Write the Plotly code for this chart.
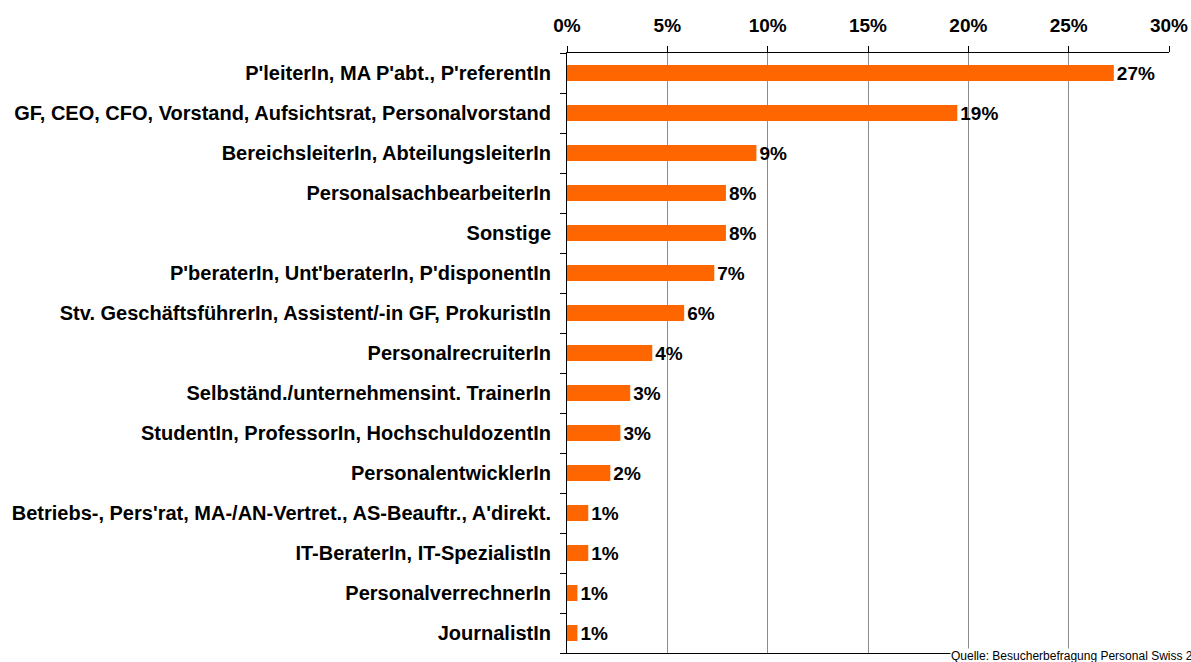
import plotly.graph_objects as go

categories = [
    "P'leiterIn, MA P'abt., P'referentIn",
    "GF, CEO, CFO, Vorstand, Aufsichtsrat, Personalvorstand",
    "BereichsleiterIn, AbteilungsleiterIn",
    "PersonalsachbearbeiterIn",
    "Sonstige",
    "P'beraterIn, Unt'beraterIn, P'disponentIn",
    "Stv. GeschäftsführerIn, Assistent/-in GF, ProkuristIn",
    "PersonalrecruiterIn",
    "Selbständ./unternehmensint. TrainerIn",
    "StudentIn, ProfessorIn, HochschuldozentIn",
    "PersonalentwicklerIn",
    "Betriebs-, Pers'rat, MA-/AN-Vertret., AS-Beauftr., A'direkt.",
    "IT-BeraterIn, IT-SpezialistIn",
    "PersonalverrechnerIn",
    "JournalistIn",
]
values = [27.25, 19.45, 9.44, 7.92, 7.92, 7.34, 5.84, 4.25, 3.15, 2.66, 2.16, 1.06, 1.06, 0.52, 0.52]
value_labels = ["27%", "19%", "9%", "8%", "8%", "7%", "6%", "4%", "3%", "3%", "2%", "1%", "1%", "1%", "1%"]
x_ticks = [0, 5, 10, 15, 20, 25, 30]
x_tick_labels = ["0%", "5%", "10%", "15%", "20%", "25%", "30%"]
source = "Quelle: Besucherbefragung Personal Swiss 2008"

FONT = "Liberation Sans, Arial, sans-serif"

W, H = 1191, 662
plot_l, plot_r, plot_t, plot_b = 567, 1169, 53, 653

fig = go.Figure(go.Bar(
    x=values,
    y=categories,
    orientation="h",
    marker=dict(color="#FF6600", line=dict(width=0)),
    width=0.4,
    text=[f"<b>{t}</b>" for t in value_labels],
    textposition="outside",
    constraintext="none",
    textfont=dict(family=FONT, size=19, color="#000000"),
    cliponaxis=False,
))

fig.update_layout(
    width=W, height=H,
    margin=dict(l=plot_l, r=W - plot_r, t=plot_t, b=H - plot_b, autoexpand=False),
    paper_bgcolor="white", plot_bgcolor="white",
    showlegend=False,
    font=dict(family=FONT, color="#000000"),
    xaxis=dict(
        side="top",
        range=[0, 30],
        tickvals=x_ticks,
        ticktext=[f"<b>{t}</b>" for t in x_tick_labels],
        tickfont=dict(family=FONT, size=19, color="#000000"),
        showgrid=True, gridcolor="#8c8c8c", gridwidth=1,
        showline=True, linecolor="#000000", linewidth=1, mirror=True,
        ticks="outside", ticklen=6, tickcolor="#000000",
        ticklabelstandoff=6,
        zeroline=False,
        fixedrange=True,
    ),
    yaxis=dict(
        autorange="reversed",
        tickfont=dict(family=FONT, size=20, color="#000000"),
        tickmode="array",
        tickvals=categories,
        ticktext=[f"<b>{c}</b>" for c in categories],
        showline=True, linecolor="#000000", linewidth=1,
        ticks="outside", ticklen=6, tickcolor="#000000",
        tickson="boundaries",
        ticklabelstandoff=11,
        showgrid=False,
        automargin=False,
        fixedrange=True,
    ),
    annotations=[dict(
        text=source,
        xref="paper", yref="paper",
        x=(950 - plot_l) / (plot_r - plot_l), y=5 / (plot_b - plot_t),
        xanchor="left", yanchor="top",
        showarrow=False,
        bgcolor="white",
        borderpad=0,
        font=dict(family=FONT, size=12, color="#000000"),
    )],
)

fig.write_html(
    "out.html",
    config={"displayModeBar": False},
    post_script="document.body.style.margin='0';document.body.style.overflow='hidden';",
)
